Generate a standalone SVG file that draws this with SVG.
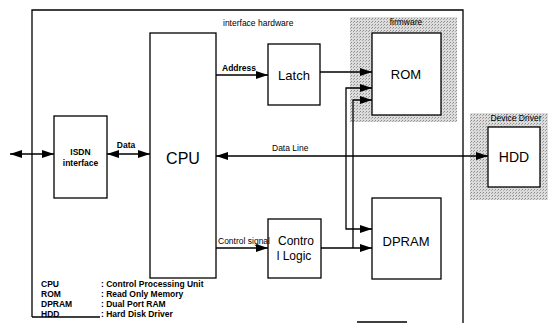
<svg xmlns="http://www.w3.org/2000/svg" width="548" height="323" viewBox="0 0 548 323">
<style>
.box{fill:#fff;stroke:#000;stroke-width:1.3}
.ln{fill:none;stroke:#000;stroke-width:1.3}
.big{font-family:"Liberation Sans",Arial,sans-serif;fill:#000;text-anchor:middle}
.lbl{font-family:"Liberation Sans",Arial,sans-serif;font-size:8.5px;fill:#000}
.leg{font-family:"Liberation Sans",Arial,sans-serif;font-size:8.5px;font-weight:bold;fill:#000}
</style>
<defs>
<pattern id="stip" width="3" height="3" patternUnits="userSpaceOnUse">
<rect width="3" height="3" fill="#dcdcdc"/>
<rect width="1" height="1" fill="#8c8c8c"/>
<rect x="2" y="1" width="1" height="1" fill="#a8a8a8"/>
</pattern>
<marker id="ah" viewBox="0 0 12 8" refX="12" refY="4" markerWidth="12" markerHeight="8" markerUnits="userSpaceOnUse" orient="auto-start-reverse">
<path d="M0,0 L12,4 L0,8 Z" fill="#000"/>
</marker>
</defs>

<g id="outer">
<path class="ln" d="M32,317 V10 H463 V323"/>
<path class="ln" d="M32,317 H100"/>
<path class="ln" d="M357,322 H407"/>
<text class="lbl" x="223" y="26">interface hardware</text>
</g>

<g id="firmware">
<rect x="350" y="17" width="107" height="105" fill="url(#stip)"/>
<text class="lbl" x="406" y="25" text-anchor="middle" font-size="8">firmware</text>
</g>

<g id="devicedriver">
<rect x="470" y="113" width="78" height="87" fill="url(#stip)"/>
<text class="lbl" x="516" y="121" text-anchor="middle" font-size="8">Device Driver</text>
</g>

<g id="cpu">
<rect class="box" x="150" y="33" width="66" height="245"/>
<text class="big" x="183" y="164" font-size="16">CPU</text>
</g>

<g id="isdn">
<rect class="box" x="54" y="116" width="53" height="82"/>
<text class="big" x="80.5" y="155" font-size="8.5" font-weight="bold">ISDN</text>
<text class="big" x="80.5" y="166" font-size="8.5" font-weight="bold">interface</text>
</g>

<g id="latch">
<rect class="box" x="268" y="44" width="52" height="61"/>
<text class="big" x="294" y="80" font-size="13">Latch</text>
</g>

<g id="rom">
<rect class="box" x="372" y="33" width="69" height="82"/>
<text class="big" x="406" y="79" font-size="13">ROM</text>
</g>

<g id="hdd">
<rect class="box" x="488" y="127" width="52" height="60"/>
<text class="big" x="514" y="162" font-size="14">HDD</text>
</g>

<g id="controllogic">
<rect class="box" x="268" y="219" width="53" height="59"/>
<text class="big" x="296" y="245" font-size="12">Contro</text>
<text class="big" x="294" y="260" font-size="12">l Logic</text>
</g>

<g id="dpram">
<rect class="box" x="372" y="198" width="69" height="81"/>
<text class="big" x="406" y="246" font-size="13">DPRAM</text>
</g>

<g id="connectors">
<path class="ln" d="M10,154 H54" marker-start="url(#ah)" marker-end="url(#ah)"/>
<path class="ln" d="M107,154 H150" marker-start="url(#ah)" marker-end="url(#ah)"/>
<path class="ln" d="M216,156 H488" marker-start="url(#ah)" marker-end="url(#ah)"/>
<path class="ln" d="M216,75 H268" marker-end="url(#ah)"/>
<path class="ln" d="M320,72 H372" marker-end="url(#ah)"/>
<path class="ln" d="M372,88 H346 V229 H372" marker-start="url(#ah)" marker-end="url(#ah)"/>
<path class="ln" d="M216,248 H268" marker-end="url(#ah)"/>
<path class="ln" d="M321,248 H372" marker-end="url(#ah)"/>
<path class="ln" d="M353,248 V100 H372" marker-end="url(#ah)"/>
<text class="lbl" x="126" y="148" text-anchor="middle" font-weight="bold">Data</text>
<text class="lbl" x="222" y="71" font-weight="bold">Address</text>
<text class="lbl" x="272" y="151">Data Line</text>
<text class="lbl" x="218" y="244">Control signal</text>
</g>

<g id="legend">
<text class="leg" x="41" y="287">CPU</text>
<text class="leg" x="41" y="297">ROM</text>
<text class="leg" x="41" y="307">DPRAM</text>
<text class="leg" x="41" y="317">HDD</text>
<text class="leg" x="101" y="287">: Control Processing Unit</text>
<text class="leg" x="101" y="297">: Read Only Memory</text>
<text class="leg" x="101" y="307">: Dual Port RAM</text>
<text class="leg" x="101" y="317">: Hard Disk Driver</text>
</g>
</svg>
